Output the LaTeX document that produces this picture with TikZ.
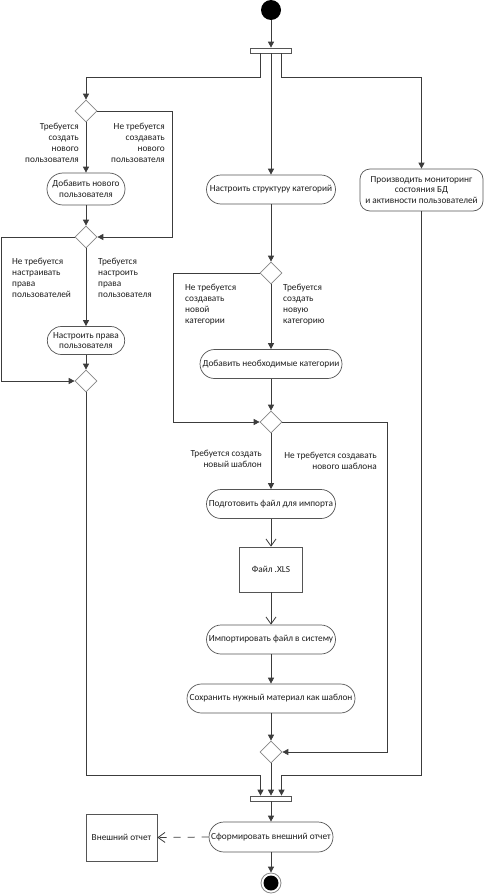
\documentclass[tikz,border=0pt]{standalone}
\usepackage{fontspec}
\setmainfont{Carlito}
\usetikzlibrary{arrows.meta, shapes.geometric, shapes.misc}
\definecolor{linegray}{RGB}{60, 60, 60}
\definecolor{boxgray}{RGB}{85, 85, 85}
\definecolor{diagray}{RGB}{135, 135, 135}
\definecolor{txtgray}{RGB}{30, 30, 30}

\begin{document}
\begin{tikzpicture}[
          x=1pt, y=-1pt,
          font=\fontsize{9.3}{10.8}\selectfont, text=txtgray,
          act/.style={rounded rectangle, draw=boxgray, fill=white,
                      line width=0.7pt, minimum height=29pt,
                      inner xsep=3pt, align=center},
          mact/.style={rectangle, rounded corners=10pt, draw=boxgray,
                       fill=white, line width=0.7pt, align=center},
          obj/.style={rectangle, draw=boxgray, fill=white,
                      line width=0.7pt, align=center},
          dec/.style={diamond, draw=diagray, fill=white,
                      line width=0.7pt, minimum width=22pt,
                      minimum height=22pt, inner sep=0pt},
          bar/.style={rectangle, draw=boxgray, fill=white,
                      line width=0.7pt, minimum width=41pt,
                      minimum height=5pt, inner sep=0pt},
          flow/.style={draw=linegray, line width=0.8pt,
                       -{Triangle[length=6pt, width=6pt]}},
          oflow/.style={draw=linegray, line width=0.8pt,
                        -{Straight Barb[length=7pt, width=10pt]}},
          lbl/.style={inner sep=0pt},
      ]
      \useasboundingbox (0, 0) rectangle (484, 894);

      % start and fork
      \node[circle, fill=black, minimum size=20pt, inner sep=0pt]
          (start) at (271, 10) {};
      \node[bar] (fork) at (271, 50.5) {};

      % left column: users
      \node[dec] (d1) at (86, 111) {};
      \node[act, minimum width=76pt, minimum height=32pt] (user)
          at (86, 189) {Добавить нового\\пользователя};
      \node[dec] (d2) at (86, 237) {};
      \node[act, minimum width=74pt, minimum height=28pt] (rights)
          at (86, 340.5) {Настроить права\\пользователя};
      \node[dec] (d3) at (86, 381) {};

      % middle column: categories and templates
      \node[act, minimum width=135pt] (cat)
          at (271, 189.5) {Настроить структуру категорий};
      \node[dec] (d4) at (271, 273) {};
      \node[act, minimum width=148pt] (addcat)
          at (271, 364) {Добавить необходимые категории};
      \node[dec] (d5) at (271, 422) {};
      \node[act, minimum width=135pt] (prep)
          at (271, 504) {Подготовить файл для импорта};
      \node[obj, minimum width=63pt, minimum height=45pt] (xls)
          at (271, 569.5) {Файл .XLS};
      \node[act, minimum width=135pt] (import)
          at (271, 639.5) {Импортировать файл в систему};
      \node[act, minimum width=174pt] (save)
          at (271, 698.5) {Сохранить нужный материал как шаблон};
      \node[dec] (d6) at (271, 752) {};

      % right column: monitoring
      \node[mact, minimum width=123pt, minimum height=42pt] (mon)
          at (421.5, 190) {Производить мониторинг\\состояния БД\\и активности пользователей};

      % join, report and end
      \node[bar] (join) at (271, 798.5) {};
      \node[act, minimum width=130pt, minimum height=30pt] (report)
          at (271, 837) {Сформировать внешний отчет};
      \node[obj, minimum width=71pt, minimum height=47pt] (ext)
          at (121.5, 837.5) {Внешний отчет};
      \node[circle, draw=diagray, fill=white, line width=0.8pt,
            minimum size=20pt, inner sep=0pt,
            path picture={\fill[black] (path picture bounding box.center)
            circle (7.5pt);}] (end) at (271, 883) {};

      % guard labels
      \node[lbl, align=right, anchor=east] (g1) at (79, 143)
          {Требуется\\создать\\нового\\пользователя};
      \node[lbl, align=right, anchor=east] (g2) at (165, 143)
          {Не требуется\\создавать\\нового\\пользователя};
      \node[lbl, align=left, anchor=west] (g3) at (12, 278)
          {Не требуется\\настраивать\\права\\пользователей};
      \node[lbl, align=left, anchor=west] (g4) at (98, 278)
          {Требуется\\настроить\\права\\пользователя};
      \node[lbl, align=left, anchor=west] (g5) at (185, 304.5)
          {Не требуется\\создавать\\новой\\категории};
      \node[lbl, align=left, anchor=west] (g6) at (283, 304.5)
          {Требуется\\создать\\новую\\категорию};
      \node[lbl, align=right, anchor=east] (g7) at (262, 459)
          {Требуется создать\\новый шаблон};
      \node[lbl, align=right, anchor=east] (g8) at (377, 460.5)
          {Не требуется создавать\\нового шаблона};

      % flows
      \draw[flow] (start) -- (fork);
      \draw[flow] ([xshift=-10.5pt]fork.south) -- ++(0, 24) -| (d1.north);
      \draw[flow] (fork.south) -- (cat.north);
      \draw[flow] ([xshift=10.5pt]fork.south) -- ++(0, 24) -| (mon.north);

      \draw[flow] (d1.south) -- (user.north);
      \draw[flow] (d1.east) -- ++(75, 0) |- (d2.east);
      \draw[flow] (user.south) -- (d2.north);
      \draw[flow] (d2.south) -- (rights.north);
      \draw[flow] (d2.west) -- ++(-73, 0) |- (d3.west);
      \draw[flow] (rights.south) -- (d3.north);
      \draw[flow] (d3.south)
          |- ([xshift=-10.5pt, yshift=20pt]join.north)
          -- ([xshift=-10.5pt]join.north);

      \draw[flow] (cat.south) -- (d4.north);
      \draw[flow] (d4.south) -- (addcat.north);
      \draw[flow] (d4.west) -- ++(-86, 0) |- (d5.west);
      \draw[flow] (addcat.south) -- (d5.north);
      \draw[flow] (d5.south) -- (prep.north);
      \draw[flow] (d5.east) -- ++(105, 0) |- (d6.east);
      \draw[oflow] (prep.south) -- (xls.north);
      \draw[oflow] (xls.south) -- (import.north);
      \draw[flow] (import.south) -- (save.north);
      \draw[flow] (save.south) -- (d6.north);
      \draw[flow] (d6.south) -- (join.north);

      \draw[flow] (mon.south)
          |- ([xshift=10.5pt, yshift=20pt]join.north)
          -- ([xshift=10.5pt]join.north);

      \draw[flow] (join.south) -- (report.north);
      \draw[oflow, dash pattern=on 7pt off 7pt] (report.west) -- (ext.east);
      \draw[flow] (report.south) -- (end.north);
      \end{tikzpicture}
\end{document}
